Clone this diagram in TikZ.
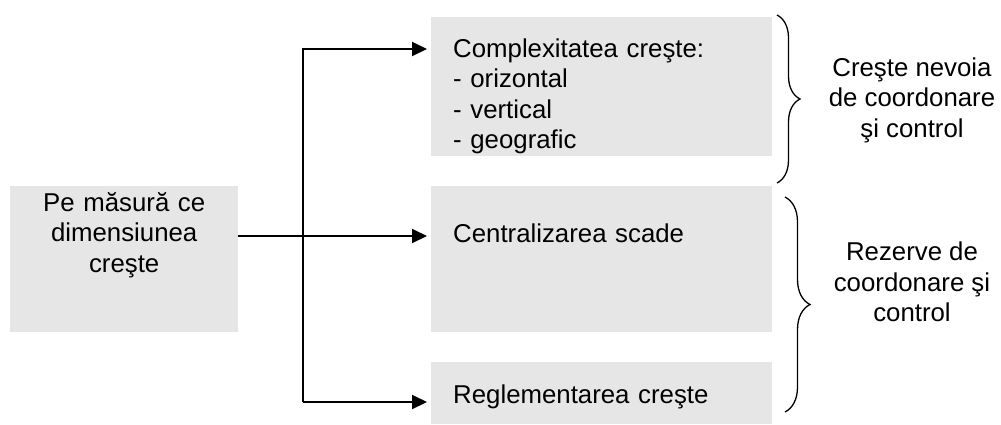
\documentclass[tikz,border=0pt]{standalone}
\usepackage{fontspec}
\setmainfont{Liberation Sans}
\usetikzlibrary{arrows.meta,decorations.pathreplacing}
\definecolor{boxgray}{HTML}{E6E6E6}
\tikzset{
	box/.style={fill=boxgray, inner sep=0pt, anchor=north west},
	arr/.style={line width=2pt, -{Triangle[length=15pt,width=14pt]}, shorten >=4pt},
	brc/.style={decorate, decoration={brace, amplitude=#1}, line width=1.3pt},
	note/.style={align=center, inner sep=0pt},
}

\begin{document}
\begin{tikzpicture}[x=1pt, y=-1pt, every node/.style={font=\fontsize{25.8}{30.5}\selectfont}]
		%%%%% START %%%%%
		\useasboundingbox (0, 0) rectangle (1001, 424);
		
		\node[box, text width=228pt, align=center, text height=25pt, text depth=121pt] (dim) at (10, 186) {Pe măsură ce\\dimensiunea\\creşte};
		
		\node[box, text width=297pt, inner xsep=22pt, align=left, text height=40pt, text depth=99pt] (cmplx) at (431, 17) {Complexitatea creşte:\\- orizontal\\- vertical\\- geografic};
		\node[box, text width=297pt, inner xsep=22pt, align=left, text height=56pt, text depth=90pt] (centr) at (431, 186) {Centralizarea scade};
		\node[box, text width=297pt, inner xsep=22pt, align=left, text height=41pt, text depth=21pt] (regl) at (431, 362) {Reglementarea creşte};
		
		\coordinate (up) at (303, 49);
		\coordinate (split) at (303, 236);
		\coordinate (down) at (303, 402);
		
		\draw[arr] (down) -- (up) -- (cmplx.west |- up);
		\draw[arr] (dim.east |- split) -- (centr.west |- split);
		\draw[arr] (down) -- (regl.west |- down);
		
		\draw[brc=23pt] (777, 15) -- (777, 183);
		\draw[brc=25pt] (785, 197) -- (785, 412);
		
		\node[note] (need) at (912, 100) {Creşte nevoia\\de coordonare\\şi control};
		\node[note] (resv) at (912, 282) {Rezerve de\\coordonare şi\\control};
		%%%%% END %%%%%
\end{tikzpicture}
\end{document}
